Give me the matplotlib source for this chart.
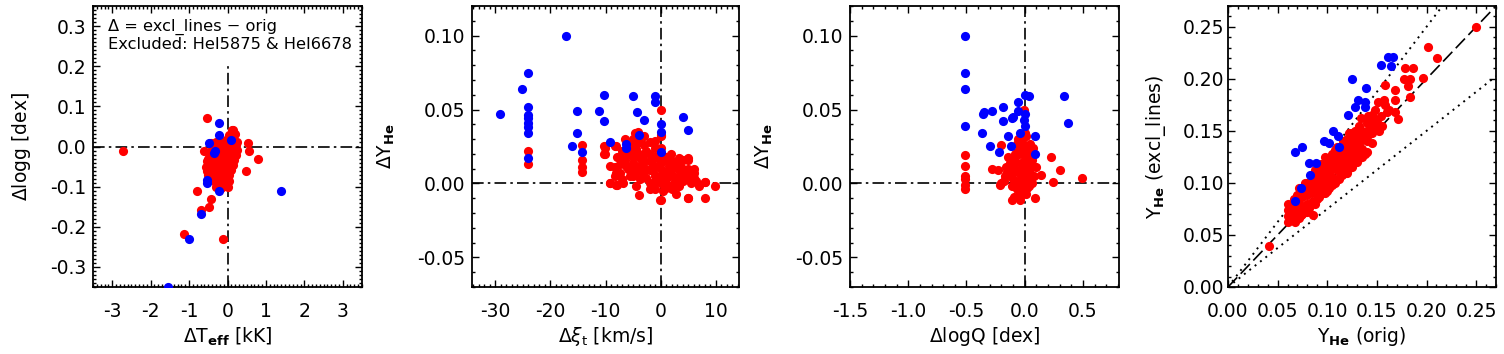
import matplotlib
matplotlib.use("Agg")
import matplotlib.pyplot as plt
from matplotlib.ticker import MultipleLocator, FormatStrFormatter
import numpy as np

plt.rcParams['font.family'] = ['DejaVu Sans']
plt.rcParams['mathtext.fontset'] = 'dejavusans'

RED = '#ff0000'
BLUE = '#0000ff'

# ---------------- Panel 1: dTeff [kK] vs dlogg [dex] ----------------
p1_red_dteff = [-2.72, -0.53, -1.14, -0.11, -0.79, -0.44, -0.48, -0.70, -0.60, 0.53, 0.57, 0.79, 0.48,
                0.11, 0.11,
                -0.44, -0.31, -0.18, -0.04, 0.04, 0.13, 0.18, 0.22, 0.26, 0.22, 0.18, 0.13, 0.09, 0.04,
                0.00, -0.04, -0.09, -0.18, -0.26, -0.35, -0.44, -0.53, -0.57, -0.54, -0.48, -0.39, -0.26,
                -0.13, -0.04, 0.04, 0.13, -0.09, -0.18, -0.26, -0.35, -0.22, -0.09, 0.00, -0.13, -0.26,
                -0.39, 0.04, -0.48, -0.31, -0.18, -0.04, -0.18, 0.09, -0.39, -0.09,
                -0.50, -0.45, -0.40, -0.35, -0.30, -0.25, -0.20, -0.15, -0.10, -0.05, 0.00, 0.05, 0.10, 0.15,
                0.20, 0.25, 0.10, 0.00, -0.10, -0.20, -0.30, -0.40, -0.15, -0.05, 0.05, -0.25, -0.35, -0.45,
                0.15, 0.00, -0.10, -0.20, -0.30, -0.05, 0.05, -0.15, -0.50, 0.20, 0.15, 0.05, 0.00]
p1_red_dlogg = [-0.010, 0.070, -0.219, -0.230, -0.112, -0.132, -0.150, -0.158, -0.012, 0.008, -0.012, -0.031, -0.062,
                0.033, 0.041,
                0.008, 0.012, 0.012, 0.017, 0.029, 0.025, 0.012, 0.004, -0.008, -0.021, -0.033, -0.045, -0.058, -0.070,
                -0.083, -0.095, -0.099, -0.103, -0.095, -0.087, -0.074, -0.062, -0.050, -0.037, -0.029, -0.021, -0.017,
                -0.008, -0.004, 0.000, -0.008, -0.029, -0.037, -0.045, -0.054, -0.062, -0.054, -0.045, -0.074, -0.079,
                -0.062, -0.025, -0.045, -0.033, -0.050, -0.066, -0.087, 0.008, -0.045, -0.017,
                -0.030, -0.045, -0.055, -0.070, -0.080, -0.060, -0.070, -0.085, -0.080, -0.070, -0.060, -0.050, -0.035, -0.020,
                -0.005, 0.010, 0.000, 0.010, 0.005, 0.000, -0.010, -0.005, -0.040, -0.030, -0.020, -0.025, -0.035, -0.015,
                -0.045, -0.040, -0.055, -0.090, -0.100, -0.090, -0.085, -0.020, -0.070, 0.030, 0.040, 0.020, -0.100]
p1_blue_dteff = [-0.22, -0.22, -0.48, 0.09, -0.33, -0.53, -0.53, -0.22, -0.70, -1.01, 1.40, -1.54, -0.35]
p1_blue_dlogg = [0.058, 0.029, 0.008, 0.017, -0.010, -0.083, -0.091, -0.112, -0.169, -0.230, -0.112, -0.350, -0.017]

# ---------------- Panel 2: dxi [km/s] vs dY ----------------
p2_red_dxi = [-24.1, -24.1, -14.2, -14.2, -14.2, -14.2, -10.2, -10.2, -9.2, -9.2, -8.1, -8.1, -8.1,
              0.0, 0.0, 0.0, -4.0, 5.0, 8.0, 8.0, 9.9,
              -4.7, -4.1, -4.1, -1.1, 0.0, 0.0, -10.1, -10.1, -8.3, -8.3, -8.3, -9.2, -8.0,
              -7.4, -6.5, -5.6, -5.0, -4.4, -3.8, -3.2, -2.6, -2.0, -1.4, -0.8, -0.2, 0.4, 1.0, 1.6, 2.2,
              2.8, 3.4, 4.0, 4.6, 5.2, 5.8, 6.4, 7.0, 8.0, 4.9, 2.8, -0.2, -2.0, -3.8, -5.6, -7.4,
              -6.8, -4.4, -2.6, -1.4, 1.0, 3.4, 4.0, -0.8, -3.2, -5.0, -6.2, 1.3, 1.9, 3.4, 4.9, 6.1, -7.4,
              -5.0, -3.0, -2.0, -1.0, -6.0, -4.0, -3.0, -1.0, 0.5, 0.0, 0.0, -0.5, 2.5, 1.5, -2.0,
              -7.0, -6.0, -5.0, -4.0, -3.0, -2.0, -1.0, 0.0, 1.0, 2.0, 3.0, 4.0, 5.0, 6.0, -6.0, -5.0, -4.0,
              -3.0, -2.0, -1.0, 0.0, 1.0, 2.0, 3.0, 4.0, 5.0, 6.0, -7.0, -8.0, -5.0, -3.0, -2.0, -1.0, 0.5,
              2.0, -6.5, 1.5, -4.5, 3.5, 5.5]
p2_red_dy = [0.022, 0.013, 0.026, 0.016, 0.011, 0.008, 0.025, 0.020, 0.012, 0.000, 0.025, 0.007, -0.001,
             0.050, 0.032, -0.011, -0.008, -0.010, -0.010, 0.001, -0.002,
             0.034, 0.035, 0.030, 0.029, 0.033, 0.024, 0.024, 0.020, 0.025, 0.011, 0.005, 0.000, -0.001,
             0.018, 0.016, 0.021, 0.014, 0.023, 0.017, 0.012, 0.022, 0.015, 0.009, 0.018, 0.013, 0.007, 0.003, 0.012, 0.005,
             0.014, 0.009, 0.016, 0.006, 0.003, 0.008, 0.002, -0.002, 0.001, -0.010, -0.007, -0.011, -0.004, 0.003, 0.005, 0.007,
             0.000, -0.002, 0.004, 0.000, -0.003, -0.002, 0.002, 0.005, 0.008, 0.011, 0.012, 0.015, 0.020, 0.017, 0.017, 0.007, 0.013,
             0.025, 0.026, 0.020, 0.024, 0.020, 0.020, 0.015, 0.012, 0.015, 0.010, 0.005, 0.002, 0.000, -0.002, 0.009,
             0.022, 0.010, 0.005, 0.028, 0.020, 0.028, 0.018, 0.018, 0.008, 0.010, 0.004, 0.010, 0.010, 0.004, 0.025, 0.018, 0.012,
             0.005, 0.000, 0.005, 0.000, 0.018, 0.015, 0.000, 0.005, 0.016, 0.010, 0.003, 0.018, 0.030, 0.032, 0.010, -0.004, -0.005,
             -0.004, 0.030, 0.005, 0.008, 0.012, 0.000]
p2_blue_dxi = [-29.2, -25.2, -24.1, -24.1, -24.1, -24.1, -24.1, -24.1, -24.1, -24.1, -17.2, -16.1, -15.1, -15.1,
               -14.2, -11.1, -10.2, -10.2, -9.2, -6.2, -6.2, -5.1, -4.2, -3.1, -1.0, -1.0, 0.0, 0.0, 0.0, 4.0, 4.9, -4.0]
p2_blue_dy = [0.047, 0.064, 0.075, 0.052, 0.046, 0.044, 0.041, 0.038, 0.034, 0.017, 0.100, 0.025, 0.049, 0.034,
              0.021, 0.049, 0.060, 0.042, 0.028, 0.027, 0.024, 0.059, 0.048, 0.043, 0.059, 0.055, 0.040, 0.035, 0.021,
              0.045, 0.036, 0.033]

# ---------------- Panel 3: dlogQ [dex] vs dY ----------------
p3_red_dlogq = [-0.01, -0.51, -0.51, -0.51, -0.51, -0.51, -0.51, -0.20, -0.28, -0.23, -0.20, -0.21, -0.11, 0.09,
                -0.04, 0.23, 0.30, 0.14, 0.24, 0.49,
                -0.13, -0.10, -0.07, -0.04, -0.03, -0.01, 0.01, 0.03, 0.04, 0.06, 0.07, 0.04, 0.01, -0.01,
                -0.04, -0.07, -0.10, -0.13, -0.16, -0.17, -0.09, -0.06, -0.03, 0.00, 0.01, 0.03, -0.03, -0.06,
                0.04, 0.00, -0.07, -0.03, -0.14, 0.10, 0.07, -0.09, -0.11, 0.01,
                -0.05, -0.02, 0.02, 0.05, 0.06, -0.08, -0.12, -0.15, -0.05, 0.02, 0.00, -0.02, 0.03, 0.05,
                -0.06, -0.10, 0.08, -0.03, 0.02, -0.08, 0.00, -0.02, 0.06, -0.12, -0.18]
p3_red_dy = [0.050, 0.019, 0.012, 0.005, 0.003, -0.001, -0.004, 0.026, 0.010, 0.009, 0.000, -0.001, -0.011, -0.010,
             -0.011, 0.018, 0.009, 0.006, 0.001, 0.004,
             0.014, 0.017, 0.021, 0.024, 0.030, 0.033, 0.032, 0.025, 0.021, 0.016, 0.012, 0.007, 0.003, -0.002,
             -0.006, -0.004, 0.003, 0.007, 0.011, 0.005, 0.011, 0.008, 0.014, 0.018, 0.012, 0.005, 0.005, 0.000,
             -0.002, -0.006, 0.027, 0.022, 0.018, 0.011, 0.024, -0.009, -0.002, -0.007,
             0.020, 0.028, 0.015, 0.010, 0.000, 0.015, 0.005, 0.008, 0.002, 0.008, 0.025, 0.010, 0.018, 0.027,
             0.030, 0.010, 0.005, -0.008, -0.003, 0.020, 0.034, 0.003, 0.020, 0.015, 0.002]
p3_blue_dlogq = [-0.51, -0.51, -0.51, -0.51, -0.37, -0.36, -0.35, -0.28, -0.19, -0.30, -0.22, -0.19, -0.11, -0.10,
                 -0.14, -0.12, -0.06, -0.06, 0.00, 0.04, -0.01, 0.00, 0.00, -0.04, 0.09, 0.09, 0.34, 0.37]
p3_blue_dy = [0.100, 0.075, 0.064, 0.039, 0.034, 0.047, 0.048, 0.049, 0.052, 0.025, 0.021, 0.042, 0.044, 0.045,
              0.032, 0.025, 0.055, 0.049, 0.060, 0.059, 0.043, 0.039, 0.047, 0.034, 0.032, 0.020, 0.059, 0.041]

# ---------------- Panel 4: Y_He(orig) vs Y_He(excl_lines) ----------------
p4_red_yorig = [0.041, 0.250, 0.201, 0.211, 0.196, 0.186, 0.178, 0.177, 0.183, 0.181, 0.183, 0.168, 0.158, 0.168,
                0.157, 0.151, 0.168, 0.171, 0.148, 0.141, 0.154, 0.134, 0.146, 0.141,
                0.060, 0.060, 0.060, 0.065, 0.065, 0.065, 0.070, 0.070, 0.070, 0.070, 0.075, 0.075, 0.075, 0.075,
                0.080, 0.080, 0.080, 0.080, 0.080, 0.085, 0.085, 0.085, 0.085, 0.090, 0.090, 0.090, 0.090,
                0.095, 0.095, 0.095, 0.095, 0.100, 0.100, 0.100, 0.100, 0.100, 0.105, 0.105, 0.105, 0.105, 0.105,
                0.110, 0.110, 0.110, 0.110, 0.110, 0.115, 0.115, 0.115, 0.115, 0.120, 0.120, 0.120, 0.120, 0.120,
                0.125, 0.125, 0.125, 0.125, 0.125, 0.130, 0.130, 0.130, 0.130, 0.135, 0.135, 0.135, 0.135,
                0.140, 0.140, 0.140, 0.140, 0.145, 0.145, 0.074, 0.086, 0.134, 0.160,
                0.062, 0.068, 0.072, 0.078, 0.082, 0.088, 0.092, 0.098, 0.102, 0.108, 0.112, 0.118, 0.122, 0.128,
                0.132, 0.138, 0.072, 0.078, 0.088, 0.094, 0.098, 0.108, 0.116, 0.122, 0.128, 0.132, 0.142, 0.145,
                0.150, 0.152, 0.155, 0.060, 0.066, 0.083, 0.087, 0.093, 0.097, 0.103, 0.107, 0.113, 0.117, 0.123,
                0.127, 0.133, 0.137, 0.143, 0.147, 0.158, 0.162]
p4_red_yexcl = [0.039, 0.250, 0.231, 0.220, 0.201, 0.210, 0.210, 0.200, 0.200, 0.193, 0.183, 0.189, 0.194, 0.180,
                0.180, 0.178, 0.168, 0.161, 0.170, 0.164, 0.164, 0.162, 0.154, 0.146,
                0.062, 0.068, 0.074, 0.065, 0.072, 0.080, 0.068, 0.075, 0.082, 0.088, 0.070, 0.078, 0.086, 0.092,
                0.072, 0.080, 0.088, 0.096, 0.100, 0.082, 0.090, 0.098, 0.104, 0.085, 0.093, 0.100, 0.108,
                0.090, 0.098, 0.106, 0.112, 0.092, 0.100, 0.108, 0.116, 0.122, 0.098, 0.106, 0.114, 0.122, 0.128,
                0.104, 0.112, 0.120, 0.128, 0.135, 0.108, 0.116, 0.124, 0.132, 0.110, 0.118, 0.126, 0.134, 0.142,
                0.115, 0.124, 0.132, 0.140, 0.148, 0.120, 0.128, 0.136, 0.144, 0.125, 0.133, 0.142, 0.150,
                0.130, 0.140, 0.150, 0.158, 0.138, 0.148, 0.069, 0.069, 0.133, 0.168,
                0.070, 0.062, 0.066, 0.072, 0.076, 0.080, 0.086, 0.090, 0.095, 0.100, 0.104, 0.110, 0.114, 0.120,
                0.124, 0.128, 0.095, 0.100, 0.112, 0.118, 0.125, 0.132, 0.140, 0.148, 0.150, 0.155, 0.160, 0.165,
                0.160, 0.150, 0.155, 0.080, 0.085, 0.094, 0.104, 0.096, 0.104, 0.112, 0.118, 0.126, 0.130, 0.138,
                0.144, 0.140, 0.146, 0.152, 0.156, 0.175, 0.170]
p4_blue_yorig = [0.067, 0.075, 0.067, 0.074, 0.082, 0.089, 0.083, 0.097, 0.106, 0.102, 0.111, 0.112, 0.121, 0.125,
                 0.128, 0.131, 0.138, 0.139, 0.138, 0.154, 0.161, 0.166, 0.164]
p4_blue_yexcl = [0.130, 0.135, 0.083, 0.095, 0.119, 0.119, 0.108, 0.140, 0.150, 0.138, 0.145, 0.135, 0.165, 0.200,
                 0.173, 0.180, 0.173, 0.191, 0.178, 0.213, 0.221, 0.221, 0.212]

# ---------------- Figure ----------------
fig = plt.figure(figsize=(15.04, 3.54), dpi=100)
W, H = 1504.0, 354.0

def add_ax(x0, x1, y0=6, y1=287):
    return fig.add_axes([x0 / W, 1 - y1 / H, (x1 - x0) / W, (y1 - y0) / H])

axes = [add_ax(93, 362), add_ax(472, 739), add_ax(850, 1119), add_ax(1228, 1496)]

FS = 13.5
MS = 6.6
DASHDOT = (0, (7, 2.5, 1.5, 2.5))

def style(ax, xmaj, xmin, ymaj, ymin, xfmt, yfmt):
    ax.xaxis.set_major_locator(MultipleLocator(xmaj))
    ax.xaxis.set_minor_locator(MultipleLocator(xmin))
    ax.yaxis.set_major_locator(MultipleLocator(ymaj))
    ax.yaxis.set_minor_locator(MultipleLocator(ymin))
    ax.xaxis.set_major_formatter(FormatStrFormatter(xfmt))
    ax.yaxis.set_major_formatter(FormatStrFormatter(yfmt))
    ax.tick_params(which='both', direction='in', top=True, right=True, width=1.0, color='black')
    ax.tick_params(which='major', length=5)
    ax.tick_params(which='minor', length=2.5)
    ax.tick_params(axis='x', which='major', pad=11, labelsize=FS)
    ax.tick_params(axis='y', which='major', pad=5, labelsize=FS)
    for s in ax.spines.values():
        s.set_linewidth(1.3)

# Panel 1
ax = axes[0]
ax.set_xlim(-3.5, 3.5)
ax.set_ylim(-0.35, 0.35)
ax.axhline(0, color='black', lw=1.2, ls=DASHDOT, zorder=1)
ax.plot([0, 0], [-0.35, 0.21], color='black', lw=1.2, ls=DASHDOT, zorder=1)
ax.plot(p1_red_dteff, p1_red_dlogg, 'o', color=RED, ms=MS, mew=0, zorder=2)
ax.plot(p1_blue_dteff, p1_blue_dlogg, 'o', color=BLUE, ms=MS, mew=0, zorder=3)
style(ax, 1, 0.1, 0.1, 0.01, '%d', '%.1f')
ax.set_xlabel(r'$\Delta$T$_{\mathbf{eff}}$ [kK]', fontsize=FS, labelpad=3)
ax.set_ylabel(r'$\Delta$logg [dex]', fontsize=FS, labelpad=12)
ax.text(0.055, 0.955, '\u0394 = excl_lines \u2212 orig\nExcluded: HeI5875 & HeI6678',
        transform=ax.transAxes, ha='left', va='top', fontsize=11.7, linespacing=1.15)

# Panel 2
ax = axes[1]
ax.set_xlim(-34.2, 14.2)
ax.set_ylim(-0.07, 0.12)
ax.axhline(0, color='black', lw=1.2, ls=DASHDOT, zorder=1)
ax.axvline(0, color='black', lw=1.2, ls=DASHDOT, zorder=1)
ax.plot(p2_red_dxi, p2_red_dy, 'o', color=RED, ms=MS, mew=0, zorder=2)
ax.plot(p2_blue_dxi, p2_blue_dy, 'o', color=BLUE, ms=MS, mew=0, zorder=3)
style(ax, 10, 1, 0.05, 0.01, '%d', '%.2f')
ax.set_xlabel(r'$\Delta\xi_{\mathrm{t}}$ [km/s]', fontsize=FS, labelpad=3)
ax.set_ylabel(r'$\Delta$Y$_{\mathbf{He}}$', fontsize=FS, labelpad=14)

# Panel 3
ax = axes[2]
ax.set_xlim(-1.5, 0.81)
ax.set_ylim(-0.07, 0.12)
ax.axhline(0, color='black', lw=1.2, ls=DASHDOT, zorder=1)
ax.axvline(0, color='black', lw=1.2, ls=DASHDOT, zorder=1)
ax.plot(p3_red_dlogq, p3_red_dy, 'o', color=RED, ms=MS, mew=0, zorder=2)
ax.plot(p3_blue_dlogq, p3_blue_dy, 'o', color=BLUE, ms=MS, mew=0, zorder=3)
style(ax, 0.5, 0.1, 0.05, 0.01, '%.1f', '%.2f')
ax.set_xlabel(r'$\Delta$logQ [dex]', fontsize=FS, labelpad=3)
ax.set_ylabel(r'$\Delta$Y$_{\mathbf{He}}$', fontsize=FS, labelpad=14)

# Panel 4
ax = axes[3]
ax.set_xlim(0, 0.27)
ax.set_ylim(0, 0.27)
ref = np.array([0.0, 0.27])
ax.plot(ref, ref, color='black', lw=1.2, ls=(0, (8, 3)), zorder=1)
ax.plot(ref, 1.25 * ref, color='black', lw=1.4, ls=(0, (1, 2.5)), zorder=1)
ax.plot(ref, 0.75 * ref, color='black', lw=1.4, ls=(0, (1, 2.5)), zorder=1)
ax.plot(p4_red_yorig, p4_red_yexcl, 'o', color=RED, ms=MS, mew=0, zorder=2)
ax.plot(p4_blue_yorig, p4_blue_yexcl, 'o', color=BLUE, ms=MS, mew=0, zorder=3)
style(ax, 0.05, 0.01, 0.05, 0.01, '%.2f', '%.2f')
ax.tick_params(axis='y', which='major', pad=3)
ax.set_xlabel(r'Y$_{\mathbf{He}}$ (orig)', fontsize=FS, labelpad=3)
ax.set_ylabel(r'Y$_{\mathbf{He}}$ (excl_lines)', fontsize=FS, labelpad=10)

fig.savefig('out.png', dpi=100)
